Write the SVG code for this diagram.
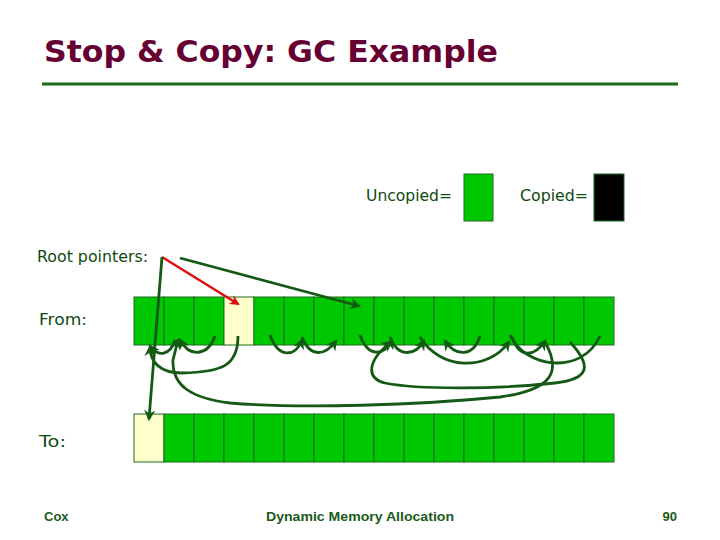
<svg xmlns="http://www.w3.org/2000/svg" width="720" height="540" viewBox="0 0 720 540">
<style>
.title{font-family:"DejaVu Sans","Liberation Sans",sans-serif;font-weight:bold;font-size:31px;fill:#660033}
.lbl{font-family:"DejaVu Sans","Liberation Sans",sans-serif;font-size:15px;fill:#0F4A0F}
.foot{font-family:"Liberation Sans",Arial,sans-serif;font-weight:bold;font-size:13px;fill:#1A5A1A}
.cell{fill:#00C800;stroke:#1E6B1E;stroke-width:1}
.fwd{fill:#FFFFCC}
.blk{fill:#000000;stroke:#1E6B1E;stroke-width:1}
.ptr{fill:none;stroke:#145A14;stroke-width:2.8;marker-end:url(#ah)}
.ptrn{fill:none;stroke:#145A14;stroke-width:2.8}
.red{fill:none;stroke:#DD1111;stroke-width:2.6;marker-end:url(#ahr)}
</style>
<defs>
<marker id="ah" viewBox="0 0 10 10" refX="8" refY="5" markerWidth="4" markerHeight="4" orient="auto"><path d="M0,0 L10,5 L0,10 L3,5 z" fill="#145A14"/></marker>
<marker id="ahr" viewBox="0 0 10 10" refX="8" refY="5" markerWidth="4" markerHeight="4" orient="auto"><path d="M0,0 L10,5 L0,10 L3,5 z" fill="#DD1111"/></marker>
</defs>
<rect width="720" height="540" fill="#FFFFFF"/>
<g id="title">
<text class="title" x="44" y="62" textLength="454" lengthAdjust="spacingAndGlyphs">Stop &amp; Copy: GC Example</text>
<line x1="42" y1="84" x2="678" y2="84" stroke="#1A6A1A" stroke-width="3"/>
</g>
<g id="legend-uncopied">
<text class="lbl" x="366" y="201" textLength="86" lengthAdjust="spacingAndGlyphs">Uncopied=</text>
<rect class="cell" x="464" y="174" width="29" height="47"/>
</g>
<g id="legend-copied">
<text class="lbl" x="520" y="201" textLength="68" lengthAdjust="spacingAndGlyphs">Copied=</text>
<rect class="blk" x="594" y="174" width="30" height="47"/>
</g>
<g id="label-root"><text class="lbl" x="37" y="262" textLength="111" lengthAdjust="spacingAndGlyphs">Root pointers:</text></g>
<g id="label-from"><text class="lbl" x="39" y="325" textLength="48" lengthAdjust="spacingAndGlyphs">From:</text></g>
<g id="label-to"><text class="lbl" x="39" y="447" textLength="27" lengthAdjust="spacingAndGlyphs">To:</text></g>
<g id="from-space">
<rect class="cell" x="134" y="297" width="30" height="48"/>
<rect class="cell" x="164" y="297" width="30" height="48"/>
<rect class="cell" x="194" y="297" width="30" height="48"/>
<rect class="cell fwd" x="224" y="297" width="30" height="48"/>
<rect class="cell" x="254" y="297" width="30" height="48"/>
<rect class="cell" x="284" y="297" width="30" height="48"/>
<rect class="cell" x="314" y="297" width="30" height="48"/>
<rect class="cell" x="344" y="297" width="30" height="48"/>
<rect class="cell" x="374" y="297" width="30" height="48"/>
<rect class="cell" x="404" y="297" width="30" height="48"/>
<rect class="cell" x="434" y="297" width="30" height="48"/>
<rect class="cell" x="464" y="297" width="30" height="48"/>
<rect class="cell" x="494" y="297" width="30" height="48"/>
<rect class="cell" x="524" y="297" width="30" height="48"/>
<rect class="cell" x="554" y="297" width="30" height="48"/>
<rect class="cell" x="584" y="297" width="30" height="48"/>
</g>
<g id="to-space">
<rect class="cell fwd" x="134" y="414" width="30" height="48"/>
<rect class="cell" x="164" y="414" width="30" height="48"/>
<rect class="cell" x="194" y="414" width="30" height="48"/>
<rect class="cell" x="224" y="414" width="30" height="48"/>
<rect class="cell" x="254" y="414" width="30" height="48"/>
<rect class="cell" x="284" y="414" width="30" height="48"/>
<rect class="cell" x="314" y="414" width="30" height="48"/>
<rect class="cell" x="344" y="414" width="30" height="48"/>
<rect class="cell" x="374" y="414" width="30" height="48"/>
<rect class="cell" x="404" y="414" width="30" height="48"/>
<rect class="cell" x="434" y="414" width="30" height="48"/>
<rect class="cell" x="464" y="414" width="30" height="48"/>
<rect class="cell" x="494" y="414" width="30" height="48"/>
<rect class="cell" x="524" y="414" width="30" height="48"/>
<rect class="cell" x="554" y="414" width="30" height="48"/>
<rect class="cell" x="584" y="414" width="30" height="48"/>
</g>
<g id="connectors">
<path class="red" d="M162,257 L238,304"/>
<path class="ptr" d="M162,257 L149,419"/>
<path class="ptr" d="M180,258 L359,306"/>
<path class="ptr" d="M175,340 C170,356 158,357 150,346"/>
<path class="ptr" d="M215,336 C208,356 190,358 180,340"/>
<path class="ptr" d="M238,336 C238,366 222,372 182,373 C160,373 150,362 150,347"/>
<path class="ptr" d="M270,335 C278,358 295,358 302,340"/>
<path class="ptr" d="M302,337 C310,358 325,356 336,341"/>
<path class="ptr" d="M360,335 C368,358 385,356 392,340"/>
<path class="ptr" d="M390,337 C398,358 415,356 424,341"/>
<path class="ptr" d="M480,336 C473,358 455,356 445,341"/>
<path class="ptr" d="M420,337 C440,370 487,372 509,342"/>
<path class="ptr" d="M512,337 C520,360 535,356 545,341"/>
<path class="ptrn" d="M510,335 C525,368 582,376 600,336"/>
<path class="ptr" d="M570,342 C592,366 590,379 555,383 C500,389 420,390 385,383 C365,378 368,360 391,342"/>
<path class="ptr" d="M545,342 C562,372 552,390 500,397 C420,405 300,409 230,403 C190,398 172,385 173,360 L178,340"/>
</g>
<g id="footer">
<text class="foot" x="44" y="521">Cox</text>
<text class="foot" x="360" y="521" text-anchor="middle" textLength="188" lengthAdjust="spacingAndGlyphs">Dynamic Memory Allocation</text>
<text class="foot" x="677" y="521" text-anchor="end">90</text>
</g>
</svg>
